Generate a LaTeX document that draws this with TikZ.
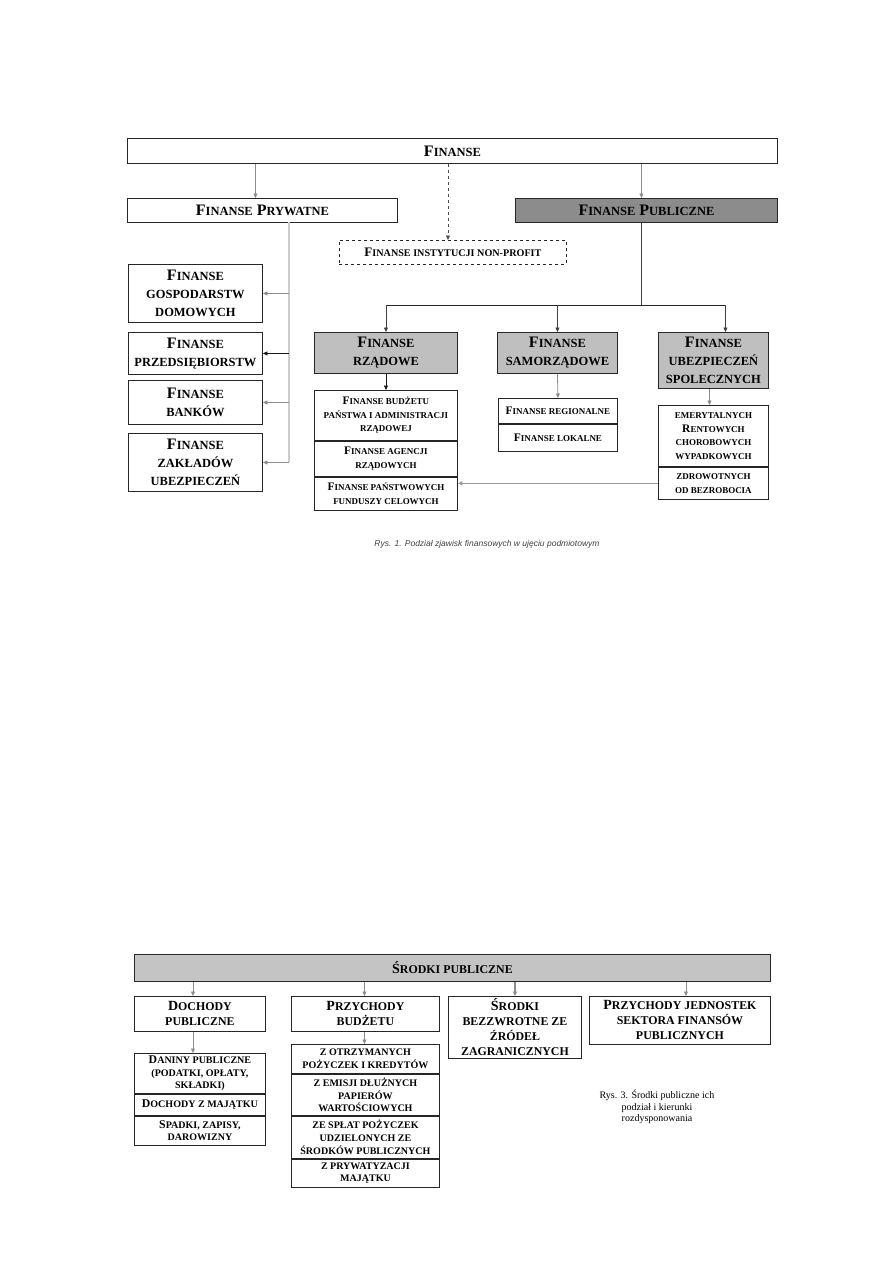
\documentclass[tikz,border=0pt]{standalone}
\usepackage{fontspec}
\setmainfont{Liberation Serif}
\setsansfont{Liberation Sans}
\usetikzlibrary{positioning, arrows.meta}

% fake small caps: lower part of a word set smaller
\makeatletter
\newcommand{\lcr}{0.78}
\newcommand{\lowc}[1]{{\fontsize{\fpeval{\lcr*\f@size}}{\f@baselineskip}\selectfont #1}}
\makeatother

\begin{document}
\begin{tikzpicture}[
  x=1pt, y=-1pt,
  box/.style      = {draw=black!85, line width=0.9pt, inner sep=0pt, align=center, anchor=north west},
  head/.style     = {box, font=\fontsize{16}{18}\selectfont\bfseries},
  cell/.style     = {box, font=\fontsize{11.5}{13.5}\selectfont\bfseries},
  low head/.style = {box, font=\def\lcr{0.85}\fontsize{14}{15}\selectfont\bfseries},
  low cell/.style = {box, font=\def\lcr{0.85}\fontsize{11.8}{12.6}\selectfont\bfseries},
  dark/.style     = {fill=black!45},
  light/.style    = {fill=black!25},
  arr/.style      = {-{Triangle[length=4.5pt,width=4pt]}, line width=0.8pt},
]
\useasboundingbox (0,0) rectangle (893,1263);

% =============================================================
% Rys. 1 -- top level
% =============================================================
\node[head, minimum width=650pt, minimum height=25pt] (fin) at (127,138) {F\lowc{INANSE}};
\node[head, minimum width=270pt, minimum height=24pt] (priv) at (127,198) {F\lowc{INANSE} P\lowc{RYWATNE}};
\node[head, dark, minimum width=262pt, minimum height=24pt] (publ) at (515,198) {F\lowc{INANSE} P\lowc{UBLICZNE}};
\node[box, dashed, font=\fontsize{13}{15}\selectfont\bfseries,
      minimum width=227pt, minimum height=24pt] (npo) at (339,240) {F\lowc{INANSE INSTYTUCJI NON-PROFIT}};

\draw[arr, black!45] ([xshift=-7pt]priv.north |- fin.south) -- ([xshift=-7pt]priv.north);
\draw[arr, dashed, black!70] ([xshift=-5pt]npo.north |- fin.south) -- ([xshift=-5pt]npo.north);
\draw[arr, black!45] ([xshift=-5pt]publ.north |- fin.south) -- ([xshift=-5pt]publ.north);

% =============================================================
% Private finance -- left column
% =============================================================
\node[head, minimum width=134pt, minimum height=58pt] (hh) at (128,264) {F\lowc{INANSE}\\\lowc{GOSPODARSTW}\\\lowc{DOMOWYCH}};
\node[head, minimum width=134pt, minimum height=42pt] (ent) at (128,332) {F\lowc{INANSE}\\\lowc{PRZEDSIĘBIORSTW}};
\node[head, minimum width=134pt, minimum height=44pt] (bank) at (128,380) {F\lowc{INANSE}\\\lowc{BANKÓW}};
\node[head, minimum width=134pt, minimum height=58pt] (ins) at (128,433) {F\lowc{INANSE}\\\lowc{ZAKŁADÓW}\\\lowc{UBEZPIECZEŃ}};

\coordinate (pv) at (289,222);
\draw[black!20, line width=1.5pt] (pv) -- (pv |- ins.east);
\foreach \b/\c in {hh/black!45, ent/black!90, bank/black!45, ins/black!45}
  \draw[arr, \c] (pv |- \b.east) -- (\b.east);

% =============================================================
% Public finance -- three branches
% =============================================================
\node[head, light, minimum width=143pt, minimum height=41pt] (gov) at (314,332) {F\lowc{INANSE}\\\lowc{RZĄDOWE}};
\node[head, light, minimum width=120pt, minimum height=41pt] (loc) at (497,332) {F\lowc{INANSE}\\\lowc{SAMORZĄDOWE}};
\node[head, light, minimum width=110pt, minimum height=56pt] (soc) at (658,332) {F\lowc{INANSE}\\\lowc{UBEZPIECZEŃ}\\\lowc{SPOLECZNYCH}};

\coordinate (split) at (641,305);
\coordinate (socin) at ([xshift=12pt]soc.north);
\draw[black!75, line width=0.9pt] (split |- publ.south) -- (split);
\draw[black!85, line width=0.9pt] (split -| gov.north) -- (split -| socin);
\foreach \b in {gov, loc, socin}
  \draw[arr, black!75] (split -| \b) -- (\b |- gov.north);

% sub-blocks under each branch
\node[cell, minimum width=143pt, minimum height=50pt] (gov1) at (314,390) {F\lowc{INANSE BUDŻETU}\\\lowc{PAŃSTWA I ADMINISTRACJI}\\\lowc{RZĄDOWEJ}};
\node[cell, below=0pt of gov1, minimum width=143pt, minimum height=35pt] (gov2) {F\lowc{INANSE AGENCJI}\\\lowc{RZĄDOWYCH}};
\node[cell, below=0pt of gov2, minimum width=143pt, minimum height=33pt] (gov3) {F\lowc{INANSE PAŃSTWOWYCH}\\\lowc{FUNDUSZY CELOWYCH}};

\node[cell, minimum width=119pt, minimum height=25pt] (loc1) at (498,398) {F\lowc{INANSE REGIONALNE}};
\node[cell, below=0pt of loc1, minimum width=119pt, minimum height=27pt] (loc2) {F\lowc{INANSE LOKALNE}};

\node[cell, minimum width=110pt, minimum height=61pt] (soc1) at (658,405) {\lowc{EMERYTALNYCH}\\R\lowc{ENTOWYCH}\\\lowc{CHOROBOWYCH}\\\lowc{WYPADKOWYCH}};
\node[cell, below=0pt of soc1, minimum width=110pt, minimum height=32pt] (soc2) {\lowc{ZDROWOTNYCH}\\\lowc{OD BEZROBOCIA}};

\draw[arr, black!90] (gov.south) -- (gov1.north);
\draw[arr, black!45] (loc.south) -- (loc1.north);
\draw[arr, black!45] ([xshift=-4pt]soc.south) -- ([xshift=-4pt]soc1.north);
\draw[arr, black!40, line width=1.3pt] (soc2.west) -- (soc2.west -| gov3.east);

\node[font=\fontsize{8.5}{10}\selectfont\sffamily\itshape, text=black!75] (cap1) at (487,544)
  {Rys. 1. Podział zjawisk finansowych w ujęciu podmiotowym};

% =============================================================
% Rys. 3 -- public funds
% =============================================================
\node[low head, fill=black!23, minimum width=636pt, minimum height=27pt] (pub) at (134,954) {Ś\lowc{RODKI PUBLICZNE}};

\node[low head, minimum width=131pt, minimum height=35pt] (inc) at (134,996) {D\lowc{OCHODY}\\\lowc{PUBLICZNE}};
\node[low head, minimum width=148pt, minimum height=35pt] (rev) at (291,996) {P\lowc{RZYCHODY}\\\lowc{BUDŻETU}};
\node[low head, minimum width=133pt, minimum height=62pt] (grant) at (448,996) {Ś\lowc{RODKI}\\\lowc{BEZZWROTNE ZE}\\\lowc{ŹRÓDEŁ}\\\lowc{ZAGRANICZNYCH}};
\node[low head, minimum width=181pt, minimum height=48pt] (unit) at (589,996) {P\lowc{RZYCHODY JEDNOSTEK}\\\lowc{SEKTORA FINANSÓW}\\\lowc{PUBLICZNYCH}};

\draw[arr, black!45] ([xshift=-7pt]pub.south -| inc.north) -- ([xshift=-7pt]inc.north);
\draw[arr, black!45] ([xshift=-1pt]pub.south -| rev.north) -- ([xshift=-1pt]rev.north);
\draw[arr, black!45, line width=1.6pt] (pub.south -| grant.north) -- (grant.north);
\draw[arr, black!45] ([xshift=6pt]pub.south -| unit.north) -- ([xshift=6pt]unit.north);

% income items
\node[low cell, minimum width=131pt, minimum height=40pt] (inc1) at (134,1053) {D\lowc{ANINY PUBLICZNE}\\\lowc{(PODATKI, OPŁATY,}\\\lowc{SKŁADKI)}};
\node[low cell, below=0pt of inc1, minimum width=131pt, minimum height=21pt] (inc2) {D\lowc{OCHODY Z MAJĄTKU}};
\node[low cell, below=0pt of inc2, minimum width=131pt, minimum height=29pt] (inc3) {S\lowc{PADKI, ZAPISY,}\\\lowc{DAROWIZNY}};

% budget revenue items
\node[low cell, minimum width=148pt, minimum height=29pt] (rev1) at (291,1044) {\lowc{Z OTRZYMANYCH}\\\lowc{POŻYCZEK I KREDYTÓW}};
\node[low cell, below=0pt of rev1, minimum width=148pt, minimum height=41pt] (rev2) {\lowc{Z EMISJI DŁUŻNYCH}\\\lowc{PAPIERÓW}\\\lowc{WARTOŚCIOWYCH}};
\node[low cell, below=0pt of rev2, minimum width=148pt, minimum height=42pt] (rev3) {\lowc{ZE SPŁAT POŻYCZEK}\\\lowc{UDZIELONYCH ZE}\\\lowc{ŚRODKÓW PUBLICZNYCH}};
\node[low cell, below=0pt of rev3, minimum width=148pt, minimum height=28pt] (rev4) {\lowc{Z PRYWATYZACJI}\\\lowc{MAJĄTKU}};

\draw[arr, black!45] ([xshift=-7pt]inc.south) -- ([xshift=-7pt]inc1.north);
\draw[arr, black!45] ([xshift=-1pt]rev.south) -- ([xshift=-1pt]rev1.north);

\node[align=center, font=\fontsize{10}{11.5}\selectfont] (cap3) at (657,1107)
  {Rys. 3. Środki publiczne ich\\podział i kierunki\\rozdysponowania};

\end{tikzpicture}
\end{document}
